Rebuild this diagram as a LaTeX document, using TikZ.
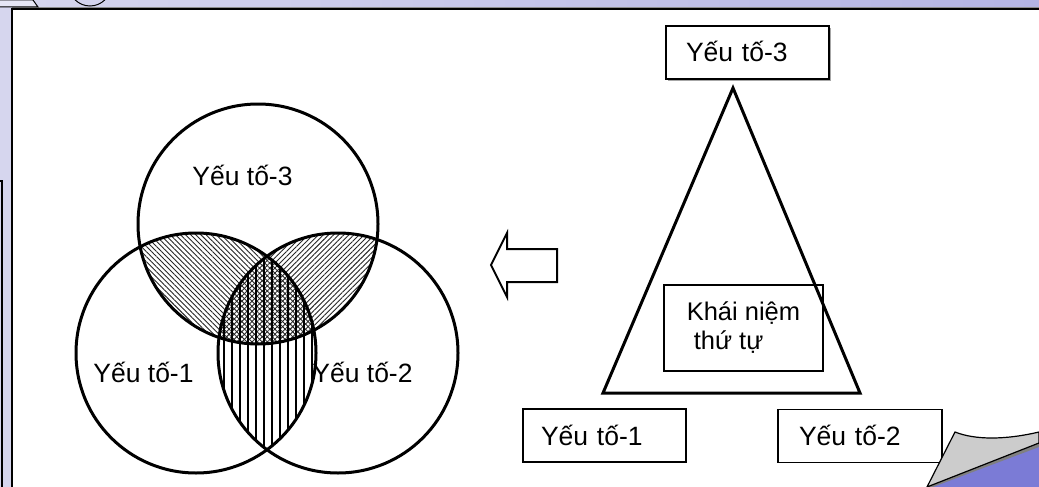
\documentclass[tikz,border=0pt]{standalone}
\usepackage{fontspec}
\setmainfont{Liberation Sans}
\usetikzlibrary{patterns.meta}
\definecolor{lav}{HTML}{D6D6EE}
\definecolor{lavR}{HTML}{B4B4E4}
\definecolor{curlblue}{HTML}{7B7BD6}
\definecolor{curlgray}{HTML}{CCCCCC}
\begin{document}
\begin{tikzpicture}[x=1pt,y=-1pt,
  ring/.style={draw,circle,line width=3pt,minimum size=240pt,inner sep=0pt},
  lbl/.style={font=\fontsize{26.5}{30}\selectfont,inner sep=0pt,anchor=base},
  box/.style={draw,line width=1.6pt,font=\fontsize{26.5}{30}\selectfont,
    minimum height=53pt,text height=19pt,text depth=0pt,align=left,inner xsep=20pt},
  hatchA/.style={pattern={Lines[angle=-45,distance=3.6pt,line width=0.9pt]},pattern color=black!85},
  hatchB/.style={pattern={Lines[angle=45,distance=3.6pt,line width=0.9pt]},pattern color=black!85},
  hatchV/.style={pattern={Lines[angle=90,distance=8pt,line width=1.1pt]},pattern color=black}]
\useasboundingbox (0,0) rectangle (1039,487);
\clip (0,0) rectangle (1039,487);
% background frame
\fill[lav] (0,0) rectangle (1039,487);
\shade[left color=lav,right color=lavR] (0,0) rectangle (1039,10);
\fill[white] (12,10) rectangle (1039,487);
\draw[black!45,line width=1pt] (12,8) -- (1039,8);
\draw[line width=2pt] (12,487) -- (12,9.5) -- (1039,9.5);
\draw[line width=1.4pt] (0,181) -- (2,181) -- (2,487);
\draw[line width=1pt,fill=lav!60] (0,7) -- (38,7) -- (33,0) -- (0,0);
\draw[line width=1pt] (90,-15) circle (21pt);
% Venn diagram
\coordinate (o1) at (196,353);
\coordinate (o2) at (338,353);
\coordinate (o3) at (258,224);
\begin{scope}
  \clip (o1) circle (120pt); \clip (o3) circle (120pt);
  \fill[hatchA] (o1) circle (120pt);
\end{scope}
\begin{scope}
  \clip (o2) circle (120pt); \clip (o3) circle (120pt);
  \fill[hatchB] (o2) circle (120pt);
\end{scope}
\begin{scope}
  \clip (o1) circle (120pt); \clip (o2) circle (120pt);
  \fill[hatchV] (o1) circle (120pt);
\end{scope}
\node[ring] (c3) at (o3) {};
\node[ring] (c1) at (o1) {};
\node[ring] (c2) at (o2) {};
\node[lbl] (t3) at (242.5,185) {Yếu tố-3};
\node[lbl] (t1) at (143.5,382) {Yếu tố-1};
\node[lbl] (t2) at (362.5,382) {Yếu tố-2};
% hollow arrow
\draw[line width=2pt,line join=miter] (491,265) -- (507,233) -- (507,249) -- (557,249)
  -- (557,282) -- (507,282) -- (507,297) -- cycle;
% boxes
\fill[black!35] (668,28) rectangle (831,81);
\node[box,fill=white,line width=2pt,minimum width=163pt,text width=123pt] (b3) at (747.5,52.5) {Yếu tố-3};
\node[box,minimum width=163pt,inner xsep=18pt,text width=127pt] (b1) at (604.5,435.5) {Yếu tố-1};
\node[box,minimum width=164pt,text width=122pt,inner xsep=21pt] (b2) at (860,436) {Yếu tố-2};
\node[draw,line width=1.6pt,minimum width=159pt,minimum height=86pt,align=left,
  font=\fontsize{25.5}{29}\selectfont,inner sep=0pt] (k) at (743.5,328) {Khái niệm\\\hspace*{7pt}thứ tự};
% triangle
\coordinate (apex) at (733,88);
\coordinate (bl) at (603,393);
\coordinate (br) at (860,393);
\draw[line width=3pt,line join=miter] (apex) -- (bl) -- (br) -- cycle;
% page curl
\fill[curlblue] (931,487) -- (1039,446) -- (1039,487) -- cycle;
\fill[black!50] (927,487) -- (1039,443) -- (1039,447) -- (933,487) -- cycle;
\filldraw[fill=curlgray,line width=1.2pt] (927,487) -- (955,432) .. controls (975,440) and (1005,440) .. (1039,432)
  -- (1039,443) -- cycle;
\end{tikzpicture}
\end{document}
